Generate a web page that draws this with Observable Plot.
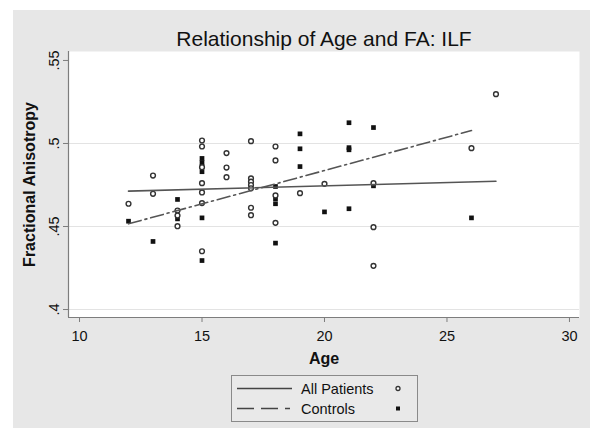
<!DOCTYPE html>
<html>
<head>
<meta charset="utf-8">
<script src="https://cdn.jsdelivr.net/npm/d3@7"></script>
<script src="https://cdn.jsdelivr.net/npm/@observablehq/plot@0.6"></script>
<style>
  body { margin: 0; background: #fff; font-family: "Liberation Sans", Arial, sans-serif; }
  #wrap { position: relative; width: 590px; height: 428px; overflow: hidden; background: #fff; }
  #bg { position: absolute; left: 13px; top: 10px; right: 0; bottom: 0; background: #e7e7e7; }
  #chart { position: absolute; left: 0; top: 0; }
  #legend { position: absolute; left: 231px; top: 375px; }
</style>
</head>
<body>
<div id="wrap">
  <div id="bg"></div>
  <div id="chart"></div>
  <svg id="legend" width="188" height="48" font-family="Liberation Sans, Arial, sans-serif">
    <rect x="0.5" y="0.5" width="186" height="46" fill="#e9e9e9" stroke="#8a8a8a" stroke-width="1"></rect>
    <line x1="6" x2="61" y1="13.5" y2="13.5" stroke="#444" stroke-width="1.4"></line>
    <line x1="6" x2="59" y1="33.5" y2="33.5" stroke="#444" stroke-width="1.4" stroke-dasharray="17,7,17,7,5"></line>
    <text x="70" y="18.5" font-size="14.5" fill="#111">All Patients</text>
    <text x="70" y="38.5" font-size="14.5" fill="#111">Controls</text>
    <circle cx="167" cy="13.5" r="2" fill="white" stroke="#333" stroke-width="1.3"></circle>
    <rect x="165" y="31.5" width="4" height="4" fill="#111"></rect>
  </svg>
</div>
<script>
// ---- data ----
const titleText = "Relationship of Age and FA: ILF";
const xLabel = "Age";
const yLabel = "Fractional Anisotropy";

const xTicks = [10, 15, 20, 25, 30];
const yTicks = [0.40, 0.45, 0.50, 0.55];
const yGrid = [0.40, 0.45, 0.50];

// All Patients (hollow circles)
const patientAge = [12, 13, 13, 14, 14, 14,
  15, 15, 15, 15, 15, 15, 15,
  16, 16, 16,
  17, 17, 17, 17, 17, 17, 17,
  18, 18, 18, 18,
  19, 20, 22, 22, 22, 26, 27];
const patientFA = [0.4637, 0.4807, 0.4697, 0.4596, 0.4566, 0.4502,
  0.5018, 0.4982, 0.4857, 0.4761, 0.4705, 0.4641, 0.4351,
  0.4942, 0.4855, 0.4797,
  0.5014, 0.4790, 0.4770, 0.4750, 0.4730, 0.4613, 0.4568,
  0.4982, 0.4898, 0.4687, 0.4522,
  0.4701, 0.4757, 0.4761, 0.4496, 0.4263, 0.4972, 0.5297];

// Controls (filled squares)
const controlAge = [12, 13, 14, 14,
  15, 15, 15, 15, 15, 15,
  18, 18, 18, 18,
  19, 19, 19, 20,
  21, 21, 21, 21,
  22, 22, 26];
const controlFA = [0.4532, 0.4410, 0.4663, 0.4546,
  0.4910, 0.4885, 0.4860, 0.4830, 0.4552, 0.4295,
  0.4741, 0.4667, 0.4637, 0.4400,
  0.5058, 0.4968, 0.4861, 0.4588,
  0.5125, 0.4975, 0.4962, 0.4607,
  0.5096, 0.4745, 0.4552];

// Fitted lines (endpoints)
const allFitAge = [12, 27];
const allFitFA = [0.4713, 0.4773];
const ctrlFitAge = [12, 26];
const ctrlFitFA = [0.4516, 0.5078];

const xDomain = [9.55, 30.41];
const yDomain = [0.3952, 0.5554];

const patients = patientAge.map((a, i) => ({age: a, fa: patientFA[i]}));
const controls = controlAge.map((a, i) => ({age: a, fa: controlFA[i]}));
const allFit = allFitAge.map((a, i) => ({age: a, fa: allFitFA[i]}));
const ctrlFit = ctrlFitAge.map((a, i) => ({age: a, fa: ctrlFitFA[i]}));

const font = "Liberation Sans, Arial, sans-serif";
const yFmt = d => String(d).replace(/^0/, "");

const chart = Plot.plot({
  width: 590,
  height: 428,
  marginLeft: 68,
  marginRight: 11,
  marginTop: 51,
  marginBottom: 111,
  style: {background: "transparent", fontFamily: font, overflow: "visible"},
  x: {domain: xDomain},
  y: {domain: yDomain},
  marks: [
    Plot.frame({fill: "white", stroke: "none"}),
    Plot.gridY(yGrid, {stroke: "#e3e3e3", strokeOpacity: 1}),
    Plot.ruleX([xDomain[0]], {stroke: "#7d7d7d", strokeWidth: 1.2}),
    Plot.ruleY([yDomain[0]], {stroke: "#7d7d7d", strokeWidth: 1.2}),
    Plot.axisX(xTicks, {tickSize: 5, tickPadding: 8, stroke: "#7d7d7d", fill: "#111", fontSize: 14.5, label: null, tickFormat: d => String(d)}),
    Plot.axisY(yTicks, {tickSize: 5, stroke: "#7d7d7d", label: null, tickFormat: () => ""}),
    Plot.text(yTicks, {x: () => xDomain[0], y: d => d, text: yFmt, rotate: -90, dx: -14, textAnchor: "middle", lineAnchor: "middle", fontSize: 14.5, fill: "#111"}),
    Plot.dot(controls, {x: "age", y: "fa", symbol: "square", r: 2.65, fill: "#111", stroke: "none"}),
    Plot.dot(patients, {x: "age", y: "fa", symbol: "circle", r: 2.4, fill: "white", stroke: "#333", strokeWidth: 1.4}),
    Plot.line(allFit, {x: "age", y: "fa", stroke: "#555", strokeWidth: 1.6}),
    Plot.line(ctrlFit, {x: "age", y: "fa", stroke: "#555", strokeWidth: 1.6, strokeDasharray: "13,4,2,4"}),
    Plot.text([titleText], {frameAnchor: "top", dy: -12, fontSize: 21, fill: "#111", textAnchor: "middle", lineAnchor: "middle"}),
    Plot.text([xLabel], {frameAnchor: "bottom", dy: 41, fontSize: 16, fontWeight: "bold", fill: "#111", textAnchor: "middle", lineAnchor: "middle"}),
    Plot.text([yLabel], {frameAnchor: "left", dx: -39, rotate: -90, fontSize: 16, fontWeight: "bold", fill: "#111", textAnchor: "middle", lineAnchor: "middle"})
  ]
});
document.getElementById("chart").appendChild(chart);
</script>
</body>
</html>
